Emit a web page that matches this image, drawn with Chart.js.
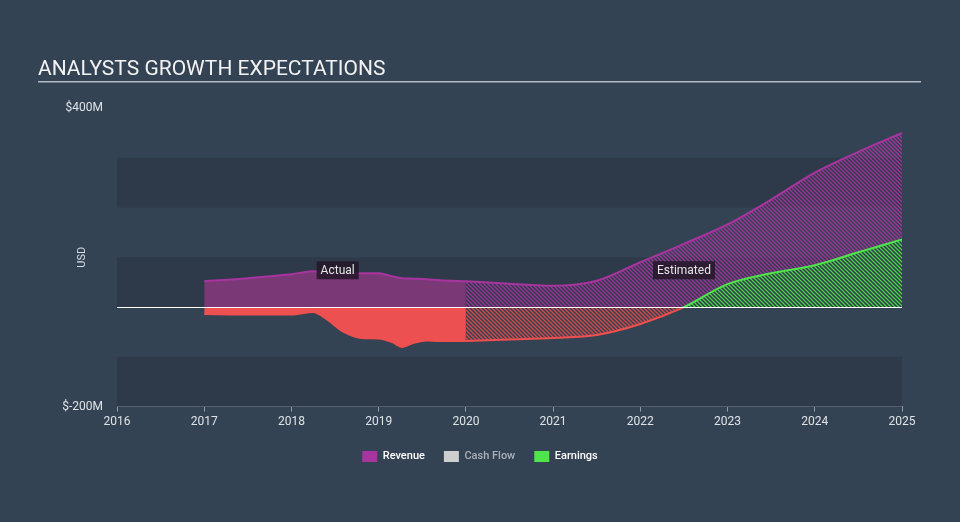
<!DOCTYPE html>
<html>
<head>
<meta charset="utf-8">
<script src="https://cdn.jsdelivr.net/npm/chart.js@4"></script>
<style>
  html, body { margin: 0; padding: 0; background: #344353; }
  canvas { display: block; }
</style>
</head>
<body>
<canvas id="chart" width="960" height="522"></canvas>
<script>
// actual (reported) values, $M
const actualYears = [2017, 2017.5, 2018, 2018.25, 2018.4, 2018.6, 2018.8, 2019, 2019.15, 2019.27, 2019.4, 2019.55, 2019.7, 2020];
const revenueActual = [52, 58, 66, 72, 70, 66, 68, 68, 62, 58, 57, 56, 54, 52];
const earningsActual = [-14, -15, -15, -10, -24, -50, -62, -63, -70, -80, -72, -67, -68, -68];

// analyst estimates, $M
const estimateYears = [2020, 2020.5, 2021, 2021.5, 2022, 2022.5, 2023, 2023.5, 2024, 2024.5, 2025];
const revenueEstimate = [52, 47, 43, 53, 90, 127, 166, 216, 270, 312, 350];
const earningsEstimate = [-68, -65, -62, -56, -34, 0, 46, 68, 84, 110, 136];

const xTicks = [2016, 2017, 2018, 2019, 2020, 2021, 2022, 2023, 2024, 2025];
const yTicks = [-200, 400];

const BAND = "#2e3a49";
const MAGENTA = "#a8349f";
const RED = "#ef4f4f";
const GREEN = "#4fe34c";

function pts(xs, ys) {
  return xs.map((x, i) => ({ x: x, y: ys[i] }));
}

function hatch(color, bg) {
  const c = document.createElement("canvas");
  c.width = 4;
  c.height = 4;
  const g = c.getContext("2d");
  if (bg) {
    g.fillStyle = bg;
    g.fillRect(0, 0, 4, 4);
  }
  g.strokeStyle = color;
  g.lineWidth = 1.3;
  g.beginPath();
  g.moveTo(-1, -1); g.lineTo(5, 5);
  g.moveTo(-1, 3); g.lineTo(1, 5);
  g.moveTo(3, -1); g.lineTo(5, 1);
  g.stroke();
  return g.createPattern(c, "repeat");
}

const magentaHatch = hatch("#a0359b");
const redHatch = hatch("#d8484a");
const greenHatch = hatch("#4fd24c", BAND);

function earningsLine(c) {
  const chart = c.chart;
  const area = chart.chartArea;
  if (!area) return GREEN;
  const z = chart.scales.y.getPixelForValue(0);
  const f = (z - area.top) / (area.bottom - area.top);
  const g = chart.ctx.createLinearGradient(0, area.top, 0, area.bottom);
  g.addColorStop(0, GREEN);
  g.addColorStop(f, GREEN);
  g.addColorStop(f, RED);
  g.addColorStop(1, RED);
  return g;
}

const decor = {
  id: "decor",
  beforeDatasetsDraw(chart) {
    const { ctx, chartArea: a, scales: { y } } = chart;
    ctx.save();
    ctx.fillStyle = BAND;
    [[200, 300], [0, 100], [-200, -100]].forEach(([lo, hi]) => {
      const t = y.getPixelForValue(hi);
      const b = y.getPixelForValue(lo);
      ctx.fillRect(a.left, t, a.right - a.left, b - t);
    });
    ctx.restore();
  },
  afterDatasetsDraw(chart) {
    const { ctx, chartArea: a, scales: { x, y } } = chart;
    ctx.save();
    // zero line
    const z = Math.round(y.getPixelForValue(0)) + 0.5;
    ctx.strokeStyle = "#ffffff";
    ctx.lineWidth = 1;
    ctx.beginPath();
    ctx.moveTo(a.left, z);
    ctx.lineTo(a.right, z);
    ctx.stroke();

    // period tags
    ctx.font = "12px Roboto";
    ctx.textAlign = "center";
    ctx.textBaseline = "middle";
    [["Actual", 2018.53], ["Estimated", 2022.5]].forEach(([txt, yr]) => {
      const cx = x.getPixelForValue(yr);
      const cy = y.getPixelForValue(74);
      const w = ctx.measureText(txt).width + 8;
      ctx.fillStyle = "rgba(34,24,40,0.85)";
      ctx.fillRect(cx - w / 2, cy - 9, w, 18);
      ctx.fillStyle = "#e6e6e6";
      ctx.fillText(txt, cx, cy + 1);
    });

    // axis name
    ctx.translate(82, (a.top + a.bottom) / 2);
    ctx.rotate(-Math.PI / 2);
    ctx.font = "11px Roboto";
    ctx.fillStyle = "#d8dde3";
    ctx.fillText("USD", 0, 0);
    ctx.restore();
  },
  afterDraw(chart) {
    const ctx = chart.ctx;
    ctx.save();
    ctx.font = "21px Roboto";
    ctx.fillStyle = "#f2f2f2";
    ctx.textBaseline = "alphabetic";
    ctx.fillText("ANALYSTS GROWTH EXPECTATIONS", 38, 75);
    ctx.fillStyle = "#b4bac2";
    ctx.fillRect(38, 81, 883, 1.5);
    ctx.restore();
  }
};

new Chart(document.getElementById("chart"), {
  type: "line",
  data: {
    datasets: [
      {
        label: "Earnings",
        data: pts(estimateYears, earningsEstimate),
        borderColor: earningsLine,
        borderWidth: 2,
        fill: { target: "origin", above: greenHatch, below: redHatch },
        cubicInterpolationMode: "monotone",
        pointRadius: 0,
        order: 1
      },
      {
        label: "Earnings actual",
        data: pts(actualYears, earningsActual),
        borderColor: RED,
        borderWidth: 2,
        backgroundColor: "#ec5050",
        fill: "origin",
        cubicInterpolationMode: "monotone",
        pointRadius: 0,
        order: 2
      },
      {
        label: "Revenue",
        data: pts(estimateYears, revenueEstimate),
        borderColor: MAGENTA,
        borderWidth: 2,
        backgroundColor: magentaHatch,
        fill: "origin",
        cubicInterpolationMode: "monotone",
        pointRadius: 0,
        order: 3
      },
      {
        label: "Revenue actual",
        data: pts(actualYears, revenueActual),
        borderColor: MAGENTA,
        borderWidth: 2,
        backgroundColor: "#7b3877",
        fill: "origin",
        cubicInterpolationMode: "monotone",
        pointRadius: 0,
        order: 4
      },
      {
        label: "Cash Flow",
        data: [],
        hidden: true
      }
    ]
  },
  options: {
    responsive: false,
    animation: false,
    layout: { padding: { top: 108, right: 0, bottom: 50, left: 0 } },
    scales: {
      x: {
        type: "linear",
        min: 2016,
        max: 2025,
        afterBuildTicks: (axis) => { axis.ticks = xTicks.map(v => ({ value: v })); },
        ticks: {
          color: "#dfe3e8",
          font: { family: "Roboto", size: 12 },
          padding: 3,
          maxRotation: 0,
          callback: (v) => String(v)
        },
        grid: { drawOnChartArea: false, tickLength: 5, color: "#8d99a8" },
        border: { color: "#8d99a8" }
      },
      y: {
        min: -200,
        max: 400,
        afterBuildTicks: (axis) => { axis.ticks = yTicks.map(v => ({ value: v })); },
        afterFit: (axis) => { axis.width = 117; },
        ticks: {
          color: "#dfe3e8",
          font: { family: "Roboto", size: 12 },
          padding: 14,
          callback: (v) => "$" + v + "M"
        },
        grid: { display: false, drawTicks: false },
        border: { display: false }
      },
      // empty right-hand spacer so the legend stays centred on the page
      yRight: {
        position: "right",
        afterFit: (axis) => { axis.width = 58; },
        ticks: { display: false },
        grid: { display: false, drawTicks: false },
        border: { display: false }
      }
    },
    plugins: {
      tooltip: { enabled: false },
      legend: {
        position: "bottom",
        labels: {
          font: { family: "Roboto", size: 11, weight: "500" },
          boxWidth: 15,
          boxHeight: 11,
          padding: 19,
          generateLabels: () => [
            { text: "Revenue", fillStyle: MAGENTA, strokeStyle: MAGENTA, lineWidth: 0, fontColor: "#ffffff" },
            { text: "Cash Flow", fillStyle: "#cfcfcf", strokeStyle: "#cfcfcf", lineWidth: 0, fontColor: "#a9b0b8" },
            { text: "Earnings", fillStyle: GREEN, strokeStyle: GREEN, lineWidth: 0, fontColor: "#ffffff" }
          ]
        },
        onClick: () => {}
      }
    }
  },
  plugins: [decor]
});
</script>
</body>
</html>
